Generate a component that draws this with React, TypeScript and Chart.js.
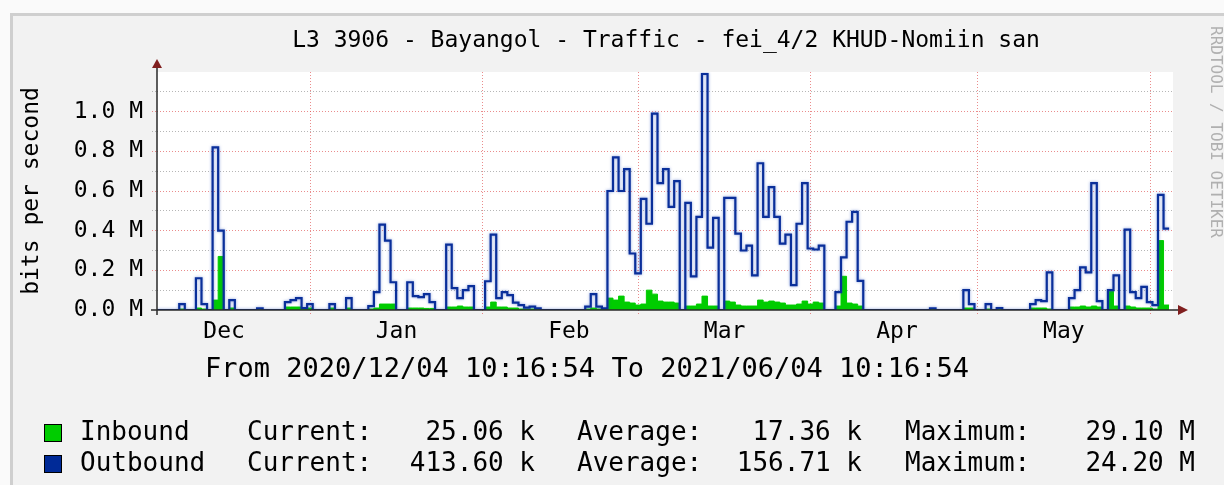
import React, { useEffect, useRef } from "react";
import { Chart, registerables } from "chart.js";

Chart.register(...registerables);

// ---- data (bits per second, in M) : one value per day starting 2020/12/04 ----
const outboundM = [
  0, 0, 0, 0, 0.03, 0, 0, 0.16, 0.03, 0,
  0.82, 0.40, 0, 0.05, 0, 0, 0, 0, 0.008, 0,
  0, 0, 0, 0.04, 0.05, 0.06, 0.01, 0.03, 0, 0,
  0, 0.03, 0, 0, 0.06, 0, 0, 0, 0.02, 0.09,
  0.43, 0.35, 0.14, 0, 0, 0.14, 0.07, 0.065, 0.08, 0.04,
  0, 0, 0.33, 0.11, 0.06, 0.10, 0.12, 0, 0, 0.145,
  0.38, 0.06, 0.09, 0.075, 0.037, 0.025, 0.012, 0.017, 0.008, 0,
  0, 0, 0, 0, 0, 0, 0, 0.017, 0.08, 0.017,
  0.008, 0.60, 0.77, 0.60, 0.71, 0.285, 0.185, 0.56, 0.435, 0.99,
  0.64, 0.71, 0.52, 0.65, 0, 0.54, 0.17, 0.47, 1.19, 0.315,
  0.465, 0, 0.565, 0.565, 0.385, 0.30, 0.325, 0.175, 0.74, 0.47,
  0.62, 0.47, 0.335, 0.38, 0.125, 0.435, 0.64, 0.31, 0.305, 0.325,
  0, 0, 0.09, 0.265, 0.445, 0.495, 0.147, 0, 0, 0,
  0, 0, 0, 0, 0, 0, 0, 0, 0, 0.008,
  0, 0, 0, 0, 0, 0.10, 0.03, 0, 0, 0.03,
  0, 0.01, 0, 0, 0, 0, 0, 0.03, 0.05, 0.045,
  0.19, 0, 0, 0, 0.06, 0.10, 0.215, 0.19, 0.64, 0.045,
  0, 0.10, 0.175, 0, 0.405, 0.09, 0.06, 0.117, 0.04, 0.025,
  0.58, 0.41,
];

const inboundM = [
  0, 0, 0, 0, 0.005, 0, 0, 0.01, 0.005, 0,
  0.05, 0.27, 0, 0.01, 0, 0, 0, 0, 0.004, 0,
  0, 0, 0, 0.015, 0.015, 0.015, 0.005, 0.01, 0, 0,
  0, 0.01, 0, 0, 0.01, 0, 0, 0, 0.005, 0.01,
  0.03, 0.03, 0.03, 0, 0, 0.01, 0.01, 0.01, 0.008, 0.008,
  0, 0, 0.015, 0.015, 0.02, 0.015, 0.015, 0, 0, 0.015,
  0.04, 0.015, 0.015, 0.01, 0.01, 0.005, 0.005, 0.005, 0.003, 0,
  0, 0, 0, 0, 0, 0, 0, 0.005, 0.01, 0.005,
  0.005, 0.06, 0.05, 0.07, 0.04, 0.035, 0.025, 0.03, 0.10, 0.08,
  0.045, 0.04, 0.04, 0.035, 0, 0.02, 0.02, 0.03, 0.07, 0.02,
  0.02, 0, 0.045, 0.04, 0.025, 0.02, 0.02, 0.02, 0.05, 0.04,
  0.045, 0.04, 0.035, 0.025, 0.025, 0.03, 0.045, 0.03, 0.04, 0.035,
  0, 0, 0.02, 0.17, 0.035, 0.03, 0.02, 0, 0, 0,
  0, 0, 0, 0, 0, 0, 0, 0, 0, 0.003,
  0, 0, 0, 0, 0, 0.01, 0.01, 0, 0, 0.005,
  0, 0.003, 0, 0, 0, 0, 0, 0.01, 0.01, 0.01,
  0.005, 0, 0, 0, 0.015, 0.015, 0.02, 0.015, 0.02, 0.015,
  0, 0.095, 0.02, 0, 0.02, 0.015, 0.01, 0.01, 0.01, 0.005,
  0.35, 0.025,
];

const monthNames = ["Dec", "Jan", "Feb", "Mar", "Apr", "May"];
// [year, monthIndex] of month boundaries drawn as grid lines
const monthStarts: [number, number][] = [
  [2021, 0], [2021, 1], [2021, 2], [2021, 3], [2021, 4], [2021, 5],
];
const monthLabelMonths: [number, number][] = [
  [2020, 11], [2021, 0], [2021, 1], [2021, 2], [2021, 3], [2021, 4],
];

const seriesNames = ["Inbound", "Outbound"];
const seriesColors = ["#00CC00", "#002A97"];
const currentVals = ["25.06 k", "413.60 k"];
const averageVals = ["17.36 k", "156.71 k"];
const maximumVals = ["29.10 M", "24.20 M"];

const titleText = "L3 3906 - Bayangol - Traffic - fei_4/2 KHUD-Nomiin san";
const rangeText = "From 2020/12/04 10:16:54 To 2021/06/04 10:16:54";
const watermark = "RRDTOOL / TOBI OETIKER";

const START = Date.UTC(2020, 11, 4, 10, 16, 54);
const DAY = 86400000;
const X_MAX = 182.7;
const FONT = '"DejaVu Sans Mono", monospace';

const dayOf = (y: number, m: number, d: number, h = 0) =>
  (Date.UTC(y, m, d, h) - START) / DAY;

function stepPoints(vals: number[]) {
  const pts = vals.map((v, i) => ({ x: i, y: v }));
  pts.push({ x: vals.length, y: vals[vals.length - 1] });
  return pts;
}

const rrdPlugin = {
  id: "rrdDecor",
  beforeDraw(chart: any) {
    const { ctx, chartArea: a, width, height } = chart;
    ctx.save();
    ctx.fillStyle = "#fafafa";
    ctx.fillRect(0, 0, width, height);
    ctx.fillStyle = "#cfcfcf";
    ctx.fillRect(10, 13, width - 10, height - 13);
    ctx.fillStyle = "#f2f2f2";
    ctx.fillRect(13, 16, width - 13, height - 16);
    ctx.fillStyle = "#ffffff";
    ctx.fillRect(a.left, a.top, a.right - a.left, a.bottom - a.top);
    ctx.restore();
  },
  beforeDatasetDraw(chart: any, args: any) {
    const ctx = chart.ctx;
    ctx.save();
    if (args.index === 0) {
      ctx.shadowColor = "rgba(40,80,190,0.55)";
      ctx.shadowBlur = 3;
    }
  },
  afterDatasetDraw(chart: any) {
    chart.ctx.restore();
  },
  afterDraw(chart: any) {
    const { ctx, chartArea: a } = chart;
    ctx.save();
    // axes
    ctx.strokeStyle = "#2a2a2a";
    ctx.lineWidth = 1.5;
    ctx.beginPath();
    ctx.moveTo(a.left, a.bottom + 5);
    ctx.lineTo(a.left, a.top - 6);
    ctx.moveTo(a.left - 6, a.bottom);
    ctx.lineTo(a.right + 6, a.bottom);
    ctx.stroke();
    ctx.fillStyle = "#801f1f";
    ctx.beginPath();
    ctx.moveTo(a.left, a.top - 13);
    ctx.lineTo(a.left - 5, a.top - 4);
    ctx.lineTo(a.left + 5, a.top - 4);
    ctx.closePath();
    ctx.fill();
    ctx.beginPath();
    ctx.moveTo(a.right + 15, a.bottom);
    ctx.lineTo(a.right + 5, a.bottom - 5);
    ctx.lineTo(a.right + 5, a.bottom + 5);
    ctx.closePath();
    ctx.fill();

    // title
    ctx.fillStyle = "#000";
    ctx.textBaseline = "middle";
    ctx.textAlign = "center";
    ctx.font = `23px ${FONT}`;
    ctx.fillText(titleText, 666, 41);

    // range line
    ctx.font = `27px ${FONT}`;
    ctx.fillText(rangeText, 587, 370);

    // watermark
    ctx.save();
    ctx.translate(1215, 132);
    ctx.rotate(Math.PI / 2);
    ctx.font = `16px ${FONT}`;
    ctx.fillStyle = "#b0b0b0";
    ctx.fillText(watermark, 0, 0);
    ctx.restore();

    // legend
    ctx.font = `26px ${FONT}`;
    seriesNames.forEach((name, i) => {
      const y = 433 + i * 31;
      ctx.fillStyle = seriesColors[i];
      ctx.fillRect(44, y - 9, 18, 18);
      ctx.strokeStyle = "#000";
      ctx.lineWidth = 1;
      ctx.strokeRect(44.5, y - 8.5, 17, 17);
      ctx.fillStyle = "#000";
      ctx.textAlign = "left";
      ctx.fillText(name, 80, y);
      ctx.fillText("Current:", 247, y);
      ctx.fillText("Average:", 577, y);
      ctx.fillText("Maximum:", 905, y);
      ctx.textAlign = "right";
      ctx.fillText(currentVals[i], 535, y);
      ctx.fillText(averageVals[i], 862, y);
      ctx.fillText(maximumVals[i], 1195, y);
    });
    ctx.restore();
  },
};

export default function App() {
  const ref = useRef<HTMLCanvasElement | null>(null);

  useEffect(() => {
    if (!ref.current) return;
    const gridDays = monthStarts.map(([y, m]) => dayOf(y, m, 1));
    const labelDays = monthLabelMonths.map(([y, m]) => dayOf(y, m, 16, 12));
    const red = "rgba(222,79,79,0.65)";
    const grey = "rgba(143,143,143,0.65)";
    const yGridColor = (c: any) => {
      const k = Math.round((c.tick?.value ?? 0) * 10);
      if (k <= 0 || k >= 12) return "rgba(0,0,0,0)";
      return k % 2 === 0 ? red : grey;
    };

    const chart = new Chart(ref.current, {
      type: "line",
      data: {
        datasets: [
          {
            label: "Outbound",
            data: stepPoints(outboundM),
            borderColor: "#0a2f9a",
            borderWidth: 2.2,
            pointRadius: 0,
            fill: false,
            stepped: "before",
            order: 0,
            xAxisID: "x",
          },
          {
            label: "Inbound",
            data: stepPoints(inboundM),
            borderColor: "#00CC00",
            backgroundColor: "#00CC00",
            borderWidth: 1,
            pointRadius: 0,
            fill: "origin",
            stepped: "before",
            order: 1,
            xAxisID: "x",
          },
        ],
      },
      options: {
        responsive: false,
        animation: false,
        events: [],
        layout: { padding: { top: 72, right: 51, bottom: 135, left: 0 } },
        plugins: {
          legend: { display: false },
          tooltip: { enabled: false },
          title: { display: false },
        },
        scales: {
          x: {
            type: "linear",
            min: 0,
            max: X_MAX,
            position: "bottom",
            afterBuildTicks: (s: any) => {
              s.ticks = gridDays.map((v) => ({ value: v }));
            },
            afterFit: (s: any) => {
              s.height = 0;
            },
            ticks: { display: false },
            grid: {
              color: red,
              tickColor: red,
              lineWidth: 1,
              drawTicks: true,
              tickLength: 5,
              tickBorderDash: [1, 2],
            },
            border: { display: false, dash: [1, 2] },
          },
          x2: {
            type: "linear",
            min: 0,
            max: X_MAX,
            position: "bottom",
            afterBuildTicks: (s: any) => {
              s.ticks = labelDays.map((v) => ({ value: v }));
            },
            afterFit: (s: any) => {
              s.height = 40;
            },
            ticks: {
              autoSkip: false,
              maxRotation: 0,
              padding: 8,
              color: "#000",
              font: { family: FONT, size: 23 },
              callback: (_v: any, i: number) => monthNames[i],
            },
            grid: { display: false, drawTicks: false },
            border: { display: false },
          },
          y: {
            type: "linear",
            min: 0,
            max: 1.2,
            afterFit: (s: any) => {
              s.width = 157;
            },
            ticks: {
              stepSize: 0.1,
              autoSkip: false,
              padding: 9,
              color: "#000",
              font: { family: FONT, size: 23 },
              callback: (v: any) => {
                const k = Math.round(Number(v) * 10);
                return k % 2 === 0 && k < 12 ? (k / 10).toFixed(1) + " M" : "";
              },
            },
            grid: {
              color: yGridColor,
              tickColor: yGridColor,
              lineWidth: 1,
              drawTicks: true,
              tickLength: 5,
              tickBorderDash: [1, 2],
            },
            border: { display: false, dash: [1, 2] },
            title: {
              display: true,
              text: "bits per second",
              color: "#000",
              font: { family: FONT, size: 23 },
              padding: { top: 18, bottom: 0 },
            },
          },
        },
      },
      plugins: [rrdPlugin],
    } as any);
    return () => chart.destroy();
  }, []);

  return (
    <div style={{ position: "absolute", left: 0, top: 0, width: 1224, height: 485 }}>
      <canvas ref={ref} width={1224} height={485} style={{ width: 1224, height: 485 }} />
    </div>
  );
}
